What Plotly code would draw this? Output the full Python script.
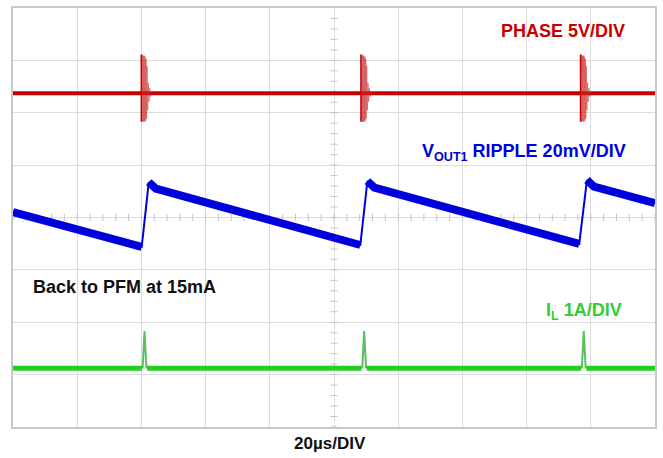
import numpy as np
import plotly.graph_objects as go

# ---- data (time in µs, 20 µs/div; vertical in divisions per channel) ----
switch_t = [39.97, 108.4, 176.8]          # PFM burst instants (µs)

# PHASE channel (5 V/div), baseline offset in div
phase_scale = 5.0
phase_offset = 2.37
ring_dt = [0.0, 0.15, 0.3, 0.45, 0.6, 0.75, 0.9, 1.05, 1.2, 1.35, 1.5, 1.65, 1.8, 2.0, 2.2, 2.4, 2.6, 2.9, 3.2, 3.6]
ring_v = [3.7, -2.7, 3.7, -2.7, 3.6, -2.7, 3.6, -2.7, 3.5, -2.6, 3.3, -2.4, 2.6, -1.6, 1.0, -0.8, 0.5, -0.3, 0.15, 0.0]

# VOUT1 ripple (20 mV/div)
ripple_scale = 20.0
ripple_offset = 0.0
ripple_t = [0, 40.1, 42.3, 44.5, 108.2, 110.4, 112.6, 176.4, 178.8, 181.0, 200]
ripple_mv = [2.1, -11.2, 13.5, 11.0, -10.5, 13.9, 11.4, -10.1, 14.3, 11.8, 5.5]
ripple_edges = [1, 4, 7]  # index of low point before each jump

# Inductor current (1 A/div)
il_scale = 1.0
il_offset = -2.88
il_dt = [0.4, 1.0, 1.6]
il_a = [0.0, 0.71, 0.0]

x_ticks = list(range(0, 201, 20))
y_ticks = list(range(-4, 5))

RED = "#c80000"
BLUE = "#0000dc"
GREEN = "#22d022"

fig = go.Figure()

# minor ticks on centre lines
fig.add_trace(go.Scatter(x=np.arange(0, 200.1, 4), y=[0] * 51, mode="markers",
                         marker=dict(symbol="line-ns", size=5, line=dict(color="#c4c4c4", width=1)),
                         hoverinfo="skip", showlegend=False))
fig.add_trace(go.Scatter(x=[100] * 41, y=np.arange(-4, 4.01, 0.2), mode="markers",
                         marker=dict(symbol="line-ew", size=5, line=dict(color="#c4c4c4", width=1)),
                         hoverinfo="skip", showlegend=False))

# PHASE baseline
fig.add_trace(go.Scatter(x=[0, 200], y=[phase_offset, phase_offset], mode="lines",
                         line=dict(color=RED, width=4), hoverinfo="skip", showlegend=False))
# PHASE ringing bursts
px, py = [], []
for t0 in switch_t:
    for dt, v in zip(ring_dt, ring_v):
        px.append(t0 + dt)
        py.append(phase_offset + v / phase_scale)
    px.append(None)
    py.append(None)
fig.add_trace(go.Scatter(x=px, y=py, mode="lines", line=dict(color="rgba(200,40,40,0.5)", width=1),
                         hoverinfo="skip", showlegend=False))
ex, ey = [], []
for t0 in switch_t:
    ex += [t0, t0, None]
    ey += [phase_offset + min(ring_v) / phase_scale, phase_offset + max(ring_v) / phase_scale, None]
fig.add_trace(go.Scatter(x=ex, y=ey, mode="lines", line=dict(color=RED, width=1.5),
                         hoverinfo="skip", showlegend=False))

# VOUT ripple: thin full trace + thick ramps
ry = [ripple_offset + v / ripple_scale for v in ripple_mv]
fig.add_trace(go.Scatter(x=ripple_t, y=ry, mode="lines", line=dict(color=BLUE, width=2),
                         hoverinfo="skip", showlegend=False))
tx, ty = [], []
for i, (t, y) in enumerate(zip(ripple_t, ry)):
    tx.append(t)
    ty.append(y)
    if i in ripple_edges:
        tx.append(None)
        ty.append(None)
fig.add_trace(go.Scatter(x=tx, y=ty, mode="lines", line=dict(color=BLUE, width=8),
                         hoverinfo="skip", showlegend=False))

# IL baseline segments (gap at each burst) and spikes
bx, by = [], []
start = 0
for t0 in switch_t:
    bx += [start, t0 + 0.2, None]
    by += [il_offset, il_offset, None]
    start = t0 + 1.8
bx += [start, 200]
by += [il_offset, il_offset]
fig.add_trace(go.Scatter(x=bx, y=by, mode="lines", line=dict(color=GREEN, width=5),
                         hoverinfo="skip", showlegend=False))
sx, sy = [], []
for t0 in switch_t:
    for dt, a in zip(il_dt, il_a):
        sx.append(t0 + dt)
        sy.append(il_offset + a / il_scale)
    sx.append(None)
    sy.append(None)
fig.add_trace(go.Scatter(x=sx, y=sy, mode="lines", line=dict(color="rgba(40,170,40,0.75)", width=2),
                         hoverinfo="skip", showlegend=False))

# trigger markers
fig.add_trace(go.Scatter(x=[switch_t[0]], y=[-4.08], mode="markers", cliponaxis=False,
                         marker=dict(symbol="triangle-up", size=5, color=RED),
                         hoverinfo="skip", showlegend=False))
fig.add_trace(go.Scatter(x=[201.3], y=[2.65], mode="markers", cliponaxis=False,
                         marker=dict(symbol="triangle-left", size=5, color=RED),
                         hoverinfo="skip", showlegend=False))
fig.add_trace(go.Scatter(x=[-1.9, -1.9], y=[phase_offset - 0.1, ripple_offset + 0.08], mode="markers",
                         cliponaxis=False,
                         marker=dict(symbol="square", size=4, color=["rgba(200,0,0,0.5)", "rgba(0,0,220,0.5)"]),
                         hoverinfo="skip", showlegend=False))

FONT = "Liberation Sans, Arial, sans-serif"
ann = [
    dict(x=191.3, y=3.56, text="<b>PHASE 5V/DIV</b>", xanchor="right", yanchor="middle",
         font=dict(color=RED, size=18)),
    dict(x=191.6, y=1.24, text="<b>V<sub>OUT1</sub> RIPPLE 20mV/DIV</b>", xanchor="right", yanchor="middle",
         font=dict(color=BLUE, size=18)),
    dict(x=5.6, y=-1.33, text="<b>Back to PFM at 15mA</b>", xanchor="left", yanchor="middle",
         font=dict(color="#111111", size=18)),
    dict(x=190.4, y=-1.8, text="<b>I<sub>L</sub> 1A/DIV</b>", xanchor="right", yanchor="middle",
         font=dict(color="#33cc33", size=18)),
    dict(x=98.6, y=-0.04, yref="paper", text="<b>20µs/DIV</b>", xanchor="center", yanchor="middle",
         font=dict(color="#111111", size=17)),
]
for a in ann:
    a.setdefault("xref", "x")
    a.setdefault("yref", "y")
    a["showarrow"] = False

fig.update_layout(
    width=663, height=458,
    margin=dict(l=13, r=7, t=6, b=31),
    paper_bgcolor="white", plot_bgcolor="white",
    font=dict(family=FONT),
    annotations=ann,
    xaxis=dict(range=[0, 200], tickvals=x_ticks, showticklabels=False, showgrid=True,
               gridcolor="#dcdcdc", gridwidth=1, zeroline=False, showline=True, mirror=True,
               linecolor="#c8c8c8", linewidth=2, ticks=""),
    yaxis=dict(range=[-4, 4], tickvals=y_ticks, showticklabels=False, showgrid=True,
               gridcolor="#dcdcdc", gridwidth=1, zeroline=False, showline=True, mirror=True,
               linecolor="#c8c8c8", linewidth=2, ticks=""),
)

fig.write_html("out.html", config={"displayModeBar": False},
               post_script="document.body.style.margin='0';document.body.style.overflow='hidden';")
